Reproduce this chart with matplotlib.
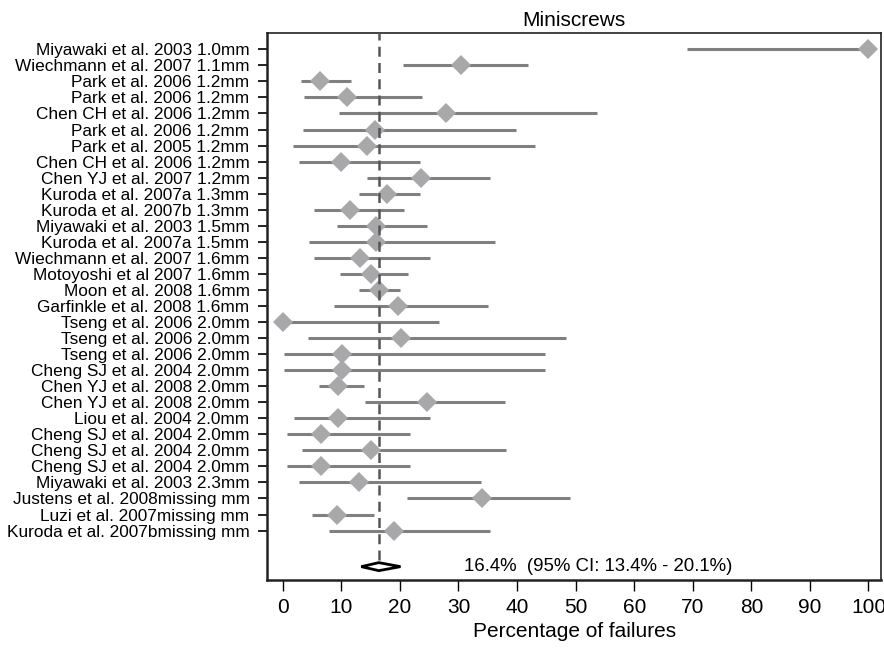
"""Forest plot of miniscrew failure rates, with the pooled estimate below."""

import matplotlib
import matplotlib.pyplot as plt
from matplotlib.patches import Polygon

matplotlib.use("Agg")
plt.rcParams["font.family"] = ["Liberation Sans", "DejaVu Sans"]

STUDIES = [
    "Miyawaki et al. 2003 1.0mm", "Wiechmann et al. 2007 1.1mm",
    "Park et al. 2006 1.2mm", "Park et al. 2006 1.2mm",
    "Chen CH et al. 2006 1.2mm", "Park et al. 2006 1.2mm",
    "Park et al. 2005 1.2mm", "Chen CH et al. 2006 1.2mm",
    "Chen YJ et al. 2007 1.2mm", "Kuroda et al. 2007a 1.3mm",
    "Kuroda et al. 2007b 1.3mm", "Miyawaki et al. 2003 1.5mm",
    "Kuroda et al. 2007a 1.5mm", "Wiechmann et al. 2007 1.6mm",
    "Motoyoshi et al 2007 1.6mm", "Moon et al. 2008 1.6mm",
    "Garfinkle et al. 2008 1.6mm", "Tseng et al. 2006 2.0mm",
    "Tseng et al. 2006 2.0mm", "Tseng et al. 2006 2.0mm",
    "Cheng SJ et al. 2004 2.0mm", "Chen YJ et al. 2008 2.0mm",
    "Chen YJ et al. 2008 2.0mm", "Liou et al. 2004 2.0mm",
    "Cheng SJ et al. 2004 2.0mm", "Cheng SJ et al. 2004 2.0mm",
    "Cheng SJ et al. 2004 2.0mm", "Miyawaki et al. 2003 2.3mm",
    "Justens et al. 2008missing mm", "Luzi et al. 2007missing mm",
    "Kuroda et al. 2007bmissing mm",
]
ESTIMATE = [100, 30.5, 6.4, 10.9, 27.9, 15.8, 14.3, 9.9, 23.6, 17.8,
            11.5, 16.0, 16.0, 13.1, 15.0, 16.4, 19.6, 0.0, 20.2, 10.1,
            10.1, 9.5, 24.7, 9.4, 6.6, 15.1, 6.6, 13.0, 34.1, 9.3, 19.0]
CI_LOW = [69.1, 20.5, 3.1, 3.6, 9.6, 3.4, 1.8, 2.7, 14.4, 13.0,
          5.4, 9.3, 4.5, 5.4, 9.8, 13.0, 8.8, 0.0, 4.3, 0.2,
          0.2, 6.2, 14.1, 1.9, 0.8, 3.2, 0.8, 2.7, 21.2, 5.0, 7.9]
CI_HIGH = [100, 41.9, 11.6, 23.8, 53.7, 39.8, 43.1, 23.4, 35.3, 23.4,
           20.7, 24.7, 36.3, 25.1, 21.3, 20.0, 35.1, 26.7, 48.3, 44.8,
           44.8, 13.8, 37.9, 25.2, 21.7, 38.1, 21.7, 33.8, 49.0, 15.6, 35.4]

POOLED, POOLED_LOW, POOLED_HIGH = 16.4, 13.4, 20.1
XTICKS = list(range(0, 101, 10))

LINE_GRAY = "#808080"
DIAMOND_GRAY = "#A8A8AA"


def main():
    fig = plt.figure(figsize=(8.84, 6.52), dpi=100, facecolor="white")
    ax = fig.add_axes([0.302, 0.110, 0.695, 0.839])

    rows = list(range(len(STUDIES)))
    summary_row = 32.25

    ax.hlines(rows, CI_LOW, CI_HIGH, color=LINE_GRAY, linewidth=2.2, zorder=2)
    ax.plot(ESTIMATE, rows, linestyle="none", marker="D", markersize=10.5,
            color=DIAMOND_GRAY, markeredgewidth=0, zorder=3, clip_on=False)

    ax.plot([POOLED, POOLED], [-1.2, summary_row], color="#555555",
            linestyle=(0, (4, 2.5)), linewidth=1.8, zorder=4)

    dh = 0.25
    diamond = Polygon([(POOLED_LOW, summary_row), (POOLED, summary_row - dh),
                       (POOLED_HIGH, summary_row), (POOLED, summary_row + dh)],
                      closed=True, facecolor="white", edgecolor="black",
                      linewidth=2.0, zorder=5)
    ax.add_patch(diamond)
    ax.text(31.0, summary_row, f"{POOLED}%  (95% CI: {POOLED_LOW}% - {POOLED_HIGH}%)",
            fontsize=13.4, va="center", ha="left")

    ax.set_xlim(-2.7, 102.2)
    ax.set_ylim(33.1, -1.0)
    ax.set_xticks(XTICKS)
    ax.set_xticklabels([str(t) for t in XTICKS], fontsize=15)
    ax.set_yticks(rows)
    ax.set_yticklabels(STUDIES, fontsize=12.4)
    ax.tick_params(axis="y", length=6.5, width=1.2, direction="out", pad=6)
    ax.tick_params(axis="x", length=8, width=1.0, direction="out", pad=5)

    for spine in ax.spines.values():
        spine.set_linewidth(1.2)
        spine.set_edgecolor("#222222")
    ax.spines["left"].set_linewidth(1.8)
    ax.spines["bottom"].set_linewidth(1.8)

    ax.set_xlabel("Percentage of failures", fontsize=15, labelpad=3)
    ax.set_title("Miniscrews", fontsize=15, pad=5)

    fig.savefig("out.png", dpi=100, facecolor="white")
    plt.close(fig)


if __name__ == "__main__":
    main()
